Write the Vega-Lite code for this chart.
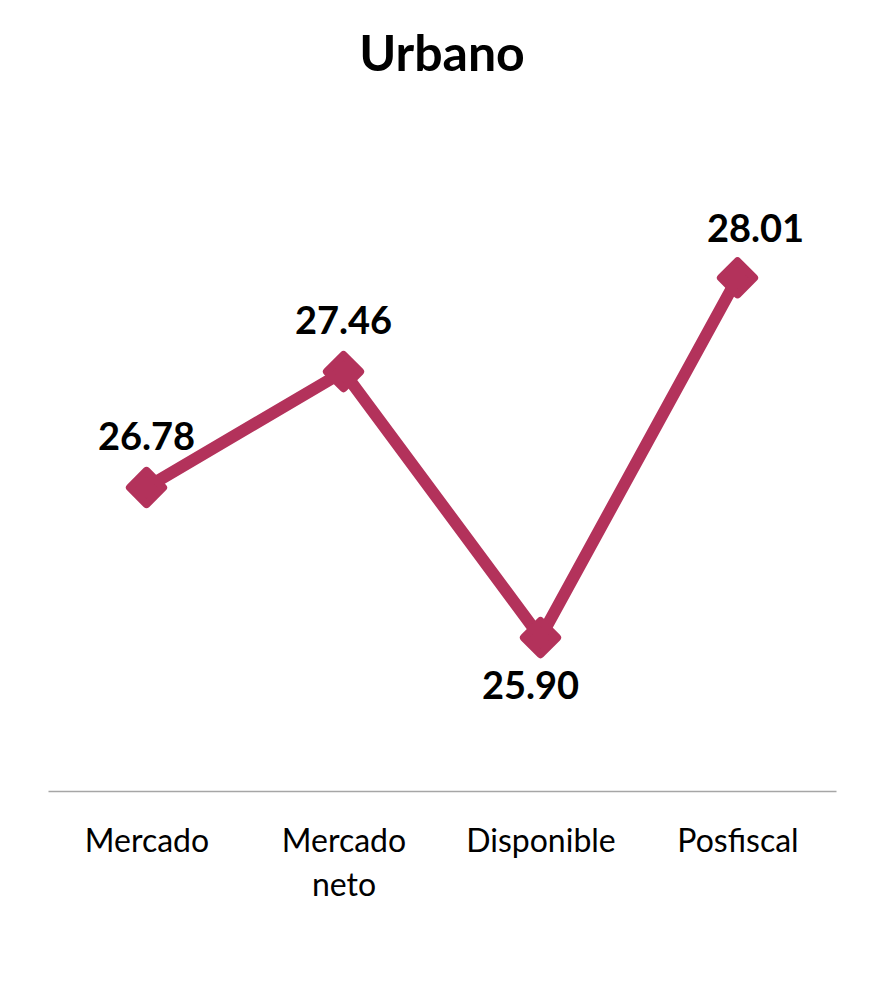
{
  "$schema": "https://vega.github.io/schema/vega-lite/v6.json",
  "width": 788,
  "height": 682,
  "autosize": "none",
  "padding": {"left": 48, "top": 109, "right": 34, "bottom": 199},
  "background": "white",
  "title": {"text": "Urbano", "fontSize": 50, "font": "Lato", "fontWeight": "bold", "color": "black", "offset": 28, "anchor": "middle"},
  "data": {"values": [
    {"ingreso": "Mercado", "gini": 26.78},
    {"ingreso": "Mercado neto", "gini": 27.46},
    {"ingreso": "Disponible", "gini": 25.90},
    {"ingreso": "Posfiscal", "gini": 28.01}
  ]},
  "encoding": {
    "x": {"field": "ingreso", "type": "nominal", "sort": null,
      "scale": {"type": "point", "padding": 0.5},
      "axis": {"title": null, "labelAngle": 0, "labelFontSize": 32, "labelFont": "Lato", "labelColor": "black",
        "labelPadding": 35, "ticks": false, "domainColor": "#a6a6a6", "domainWidth": 1.5,
        "labelExpr": "split(datum.label, ' ')", "labelLineHeight": 44}},
    "y": {"field": "gini", "type": "quantitative", "scale": {"domain": [25, 29], "zero": false}, "axis": null}
  },
  "layer": [
    {"mark": {"type": "line", "color": "#B3325B", "strokeWidth": 12}},
    {"mark": {"type": "point", "shape": "diamond", "filled": true, "size": 1100, "color": "#B3325B", "stroke": "#B3325B", "strokeWidth": 8, "strokeJoin": "round", "opacity": 1}},
    {"transform": [{"filter": "datum.ingreso == 'Mercado' || datum.ingreso == 'Mercado neto'"}],
     "mark": {"type": "text", "dy": -49, "fontSize": 38, "fontWeight": "bold", "font": "Lato", "color": "black"},
     "encoding": {"text": {"field": "gini", "type": "quantitative", "format": ".2f"}}},
    {"transform": [{"filter": "datum.ingreso == 'Posfiscal'"}],
     "mark": {"type": "text", "dy": -47, "dx": 18, "fontSize": 38, "fontWeight": "bold", "font": "Lato", "color": "black"},
     "encoding": {"text": {"field": "gini", "type": "quantitative", "format": ".2f"}}},
    {"transform": [{"filter": "datum.ingreso == 'Disponible'"}],
     "mark": {"type": "text", "dy": 50, "dx": -10, "fontSize": 38, "fontWeight": "bold", "font": "Lato", "color": "black"},
     "encoding": {"text": {"field": "gini", "type": "quantitative", "format": ".2f"}}}
  ],
  "config": {"view": {"stroke": null}}
}
